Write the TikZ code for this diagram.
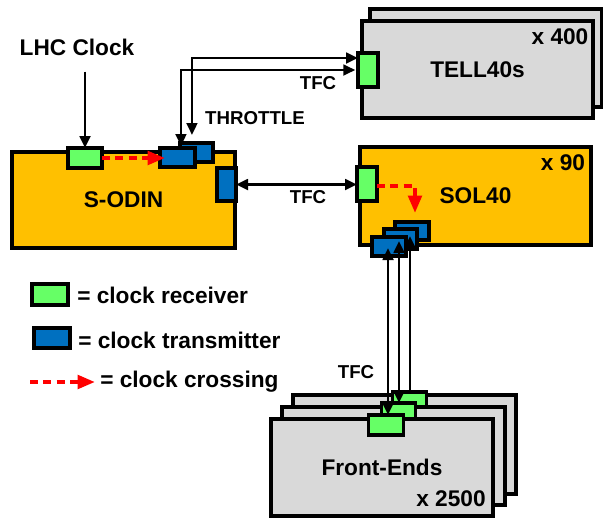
\documentclass[tikz,border=0pt]{standalone}
\usepackage{fontspec}
\setmainfont{Liberation Sans}
\usetikzlibrary{arrows.meta, calc}
\definecolor{boardorange}{RGB}{255,192,0}
\definecolor{boardgray}{RGB}{217,217,217}
\definecolor{rxgreen}{RGB}{102,255,102}
\definecolor{txblue}{RGB}{0,112,192}
\definecolor{crossred}{RGB}{255,0,0}

\begin{document}
\begin{tikzpicture}[x=0.75pt, y=-0.75pt,
  sz/.style 2 args={minimum width=#1*0.75pt, minimum height=#2*0.75pt},
  board/.style={draw, line width=2.4pt, inner sep=0pt, outer sep=0pt, font=\fontsize{17}{20}\selectfont\bfseries},
  rx/.style={draw, fill=rxgreen, line width=2.4pt, inner sep=0pt, outer sep=0pt},
  tx/.style={draw, fill=txblue, line width=2.4pt, inner sep=0pt, outer sep=0pt},
  lbl/.style={font=\fontsize{17}{20}\selectfont\bfseries, inner sep=0pt},
  small/.style={font=\fontsize{14}{16}\selectfont\bfseries, inner sep=0pt},
  feed/.style={line width=2pt, -{Triangle[length=9pt,width=8pt]}},
  link/.style={line width=2pt, {Triangle[length=9pt,width=8pt]}-{Triangle[length=9pt,width=8pt]}},
  cross/.style={crossred, line width=3pt, dash pattern=on 6pt off 4pt, -{Triangle[length=13pt,width=10pt]}}
]
\useasboundingbox (0,0) rectangle (603,518);

% S-ODIN
\node[lbl] (lhc) at (77,47) {LHC Clock};
\node[board, fill=boardorange, sz={223}{96}] (sodin) at (123.5,200) {S-ODIN};
\node[rx, sz={34}{20}] (sodinRx) at (85,158) {};
\node[tx, sz={33}{19}] (sodinTxA) at (196.5,152.5) {};
\node[tx, sz={35}{19}] (sodinTxB) at (177.5,157.5) {};
\node[tx, sz={19}{33}] (sodinTxC) at (226.5,184.5) {};

% TELL40s
\node[board, fill=boardgray, sz={232}{98}] (tellBack) at (486,58) {};
\node[board, fill=boardgray, sz={231}{97}] (tell) at (477.5,69.5) {TELL40s};
\node[lbl] (tellCount) at (560,37) {x 400};
\node[rx, sz={20}{34}] (tellRx) at (368,70) {};

% SOL40
\node[board, fill=boardorange, sz={231}{98}] (sol) at (475.5,196) {SOL40};
\node[lbl] (solCount) at (563,163) {x 90};
\node[rx, sz={20}{34}] (solRx) at (367,184) {};
\node[tx, sz={34}{18}] (solTxA) at (412,231) {};
\node[tx, sz={33}{20}] (solTxB) at (400.5,239) {};
\node[tx, sz={34}{19}] (solTxC) at (389,246.5) {};

% Front-Ends
\node[board, fill=boardgray, sz={223}{99}] (feBack) at (404.5,444.5) {};
\node[rx, sz={34}{20}] (feRxA) at (409.5,402) {};
\node[board, fill=boardgray, sz={223}{98}] (feMid) at (393.5,456) {};
\node[rx, sz={34}{20}] (feRxB) at (398.5,413) {};
\node[board, fill=boardgray, sz={222}{97}] (fe) at (382,467.5) {Front-Ends};
\node[lbl] (feCount) at (451,499) {x 2500};
\node[rx, sz={35}{20}] (feRxC) at (386,425) {};

% links
\draw[feed, shorten <=12pt] (lhc.south -| sodinRx.north) -- (sodinRx.north);
\draw[link] ([xshift=-3.4pt,yshift=6pt]sodinTxA.north) |- ([yshift=9pt]tellRx.west);
\draw[link] ([xshift=2.6pt,yshift=1.5pt]sodinTxB.north) |- ([xshift=-2pt]tellRx.west);
\draw[link] (sodinTxC.east) -- (sodinTxC.east -| solRx.west);
\node[small] (tfcTell) at (318,83) {TFC};
\node[small] (throttle) at (255,118) {THROTTLE};
\node[small] (tfcSol) at (308,197) {TFC};

\path (solTxC.south) ++(-1,-8) coordinate (upC);
\path (solTxB.south) ++(-1.5,-8) coordinate (upB);
\path (solTxA.south) ++(-2,-4) coordinate (upA);
\draw[link] (upC) -- (upC |- feRxC.north);
\draw[link] (upB) -- (upB |- feRxB.north);
\draw[feed] (upA |- feRxA.north) -- (upA);
\node[small] (tfcFe) at (356,372) {TFC};

% clock crossings
\draw[cross] (sodinRx.east) -- ($(sodinTxB.west |- sodinRx.east)+(5,0)$);
\draw[cross] ([yshift=-1.5pt]solRx.east) -| ($(solTxA.north)+(3,-9)$);

% legend
\node[rx, sz={36}{21}] (keyRx) at (50,294.5) {};
\node[lbl, anchor=west] (keyRxText) at (77,295) {= clock receiver};
\node[tx, sz={36}{20}] (keyTx) at (52,338) {};
\node[lbl, anchor=west] (keyTxText) at (78,340) {= clock transmitter};
\coordinate (keyFrom) at (30,382);
\coordinate (keyTo) at (95,382);
\draw[cross] (keyFrom) -- (keyTo);
\node[lbl, anchor=west] (keyCrossText) at (100,382) {= clock crossing};
\end{tikzpicture}
\end{document}
